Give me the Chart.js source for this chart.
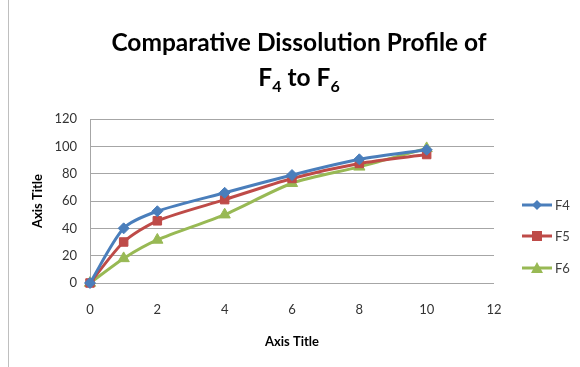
<!DOCTYPE html>
<html>
<head>
<meta charset="utf-8">
<script src="https://cdn.jsdelivr.net/npm/chart.js@4"></script>
<style>
  html, body { margin:0; padding:0; background:#fff; }
  #wrap { position:relative; width:580px; height:367px; overflow:hidden; }
  #wrap canvas { position:absolute; left:0; top:0; }
  #frame { position:absolute; left:8px; top:0; width:1px; height:367px; background:#bfbfbf; }
  #titre { position:absolute; left:0; top:24px; width:598px; text-align:center;
    font-family:Lato, sans-serif; font-weight:bold;
    font-size:24.5px; line-height:35px; color:#000; }
  #titre sub { font-size:16px; vertical-align:-6px; line-height:0; }
  #legende { position:absolute; left:521px; top:189px; font-family:Lato, sans-serif;
    font-size:13px; color:#404040; }
  #legende div { height:31.5px; display:flex; align-items:center; }
  #legende svg { margin-right:2px; }
</style>
</head>
<body>
<div id="wrap">
  <div id="frame"></div>
  <canvas id="chart" width="580" height="367"></canvas>
  <div id="titre">Comparative Dissolution Profile of<br>F<sub>4</sub> to F<sub>6</sub></div>
  <div id="legende"></div>
</div>
<script>
// temps (x) et % dissous
const temps = [0, 1, 2, 4, 6, 8, 10];
const f4 = [0, 40, 52.5, 66, 79, 90.5, 97.5];
const f5 = [0, 30, 45.5, 61, 76.5, 87.5, 94];
const f6 = [0, 18, 31.5, 50, 73, 85, 98.5];
const yTicks = [0, 20, 40, 60, 80, 100, 120];
const xTicks = [0, 2, 4, 6, 8, 10, 12];

const series = [
  { nom:'F4', data:f4, couleur:'#4A7EBB', forme:'rectRot', r:5.5 },
  { nom:'F5', data:f5, couleur:'#BE4B48', forme:'rect', r:6 },
  { nom:'F6', data:f6, couleur:'#98B954', forme:'triangle', r:6.5 }
];

const police = { family:'Lato, sans-serif', size:13 };

new Chart(document.getElementById('chart'), {
  type: 'line',
  data: {
    datasets: series.map(s => ({
      label: s.nom,
      data: temps.map((t, i) => ({ x:t, y:s.data[i] })),
      borderColor: s.couleur,
      backgroundColor: s.couleur,
      borderWidth: 3,
      pointStyle: s.forme,
      pointRadius: s.r,
      pointBorderWidth: 1,
      tension: 0.25,
      clip: false
    }))
  },
  options: {
    responsive: false,
    animation: false,
    layout: { padding: { left: 30, right: 86, top: 119, bottom: 17 } },
    plugins: { legend: { display:false }, title: { display:false }, tooltip: { enabled:false } },
    scales: {
      x: {
        type: 'linear', min: 0, max: 12,
        afterBuildTicks: s => { s.ticks = xTicks.map(v => ({ value:v })); },
        afterFit: s => { s.height = 67; },
        grid: { display:false, drawTicks:false },
        border: { display:false },
        ticks: { color:'#333', font: police, padding: 19 },
        title: { display:true, text:'Axis Title', color:'#000', font: { ...police, weight:'bold' }, padding: { top: 0, bottom: 0 } }
      },
      y: {
        min: 0, max: 120,
        afterBuildTicks: s => { s.ticks = yTicks.map(v => ({ value:v })); },
        afterFit: s => { s.width = 60; },
        grid: { color:'#a6a6a6', lineWidth:1, drawTicks:false },
        border: { display:true, color:'#a6a6a6' },
        ticks: { color:'#333', font: police, padding: 13 },
        title: { display:true, text:'Axis Title', color:'#000', font: { ...police, weight:'bold' }, padding: { top: 0, bottom: 0 } }
      }
    }
  }
});

// légende à droite
document.getElementById('legende').innerHTML = series.map(s => {
  let marque;
  if (s.forme === 'rectRot') marque = `<polygon points="16,2 21,7 16,12 11,7" fill="${s.couleur}"/>`;
  else if (s.forme === 'rect') marque = `<rect x="11" y="2" width="10" height="10" fill="${s.couleur}"/>`;
  else marque = `<polygon points="16,1 22,12 10,12" fill="${s.couleur}"/>`;
  return `<div><svg width="32" height="14"><line x1="1" y1="7" x2="31" y2="7" stroke="${s.couleur}" stroke-width="3"/>${marque}</svg>${s.nom}</div>`;
}).join('');
</script>
</body>
</html>
